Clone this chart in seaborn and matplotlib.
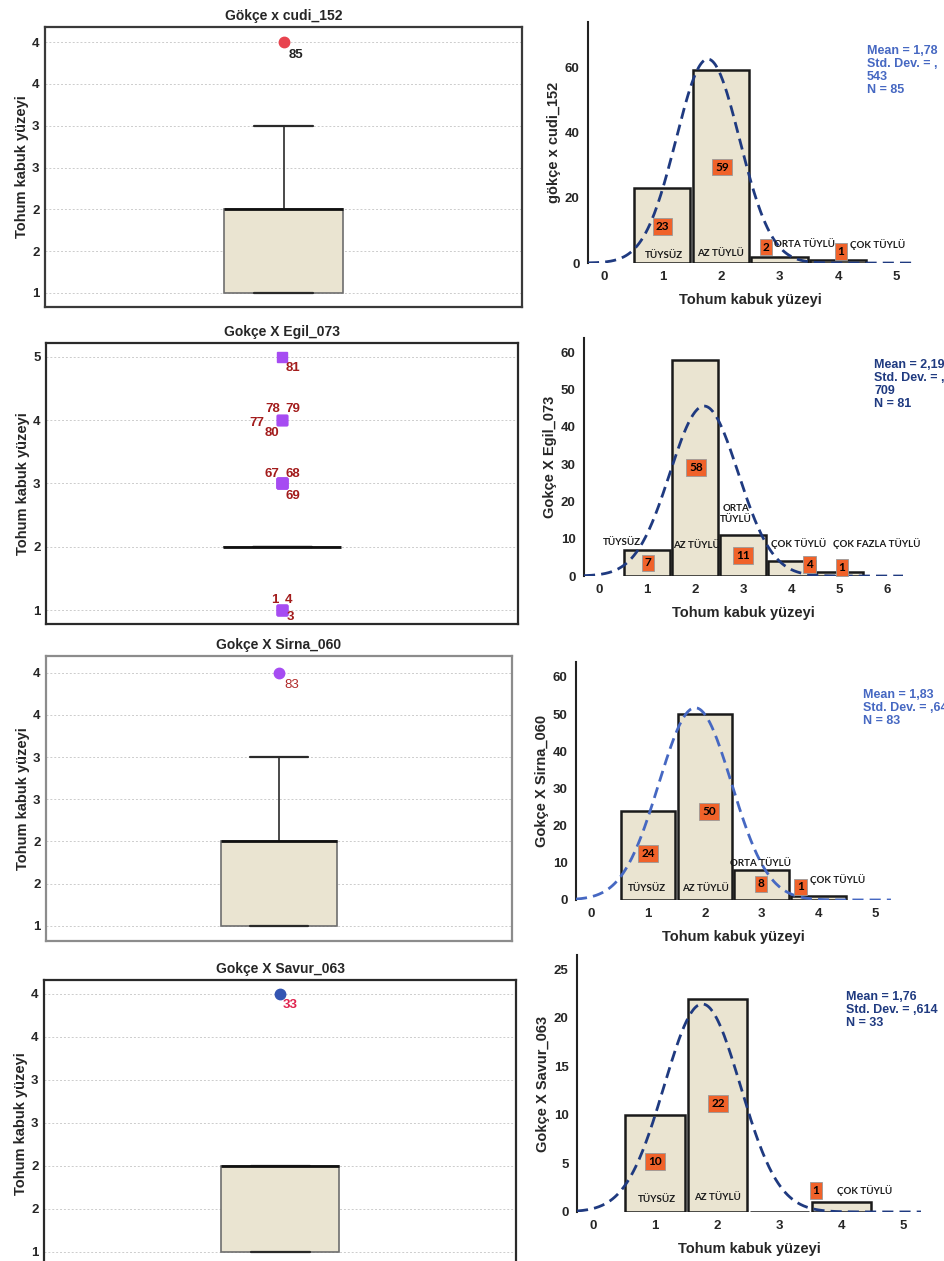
import numpy as np
import seaborn as sns
import matplotlib.pyplot as plt

# ---- data ----
levels = [1, 2, 3, 4, 5]

box_titles = ['Gökçe x cudi_152', 'Gokçe X Egil_073', 'Gokçe X Sirna_060', 'Gokçe X Savur_063']
hist_ylabels = ['gökçe x cudi_152', 'Gokçe X Egil_073', 'Gokçe X Sirna_060', 'Gokçe X Savur_063']

cudi_counts = [23, 59, 2, 1, 0]
egil_counts = [7, 58, 11, 4, 1]
sirna_counts = [24, 50, 8, 1, 0]
savur_counts = [10, 22, 0, 1, 0]

stats_texts = [
    'Mean = 1,78\nStd. Dev. = ,\n543\nN = 85',
    'Mean = 2,19\nStd. Dev. = ,\n709\nN = 81',
    'Mean = 1,83\nStd. Dev. = ,64\nN = 83',
    'Mean = 1,76\nStd. Dev. = ,614\nN = 33',
]

cudi_cats = ['TÜYSÜZ', 'AZ TÜYLÜ', 'ORTA TÜYLÜ', 'ÇOK TÜYLÜ']
egil_cats = ['TÜYSÜZ', 'AZ TÜYLÜ', 'ORTA\nTÜYLÜ', 'ÇOK TÜYLÜ', 'ÇOK FAZLA TÜYLÜ']
sirna_cats = ['TÜYSÜZ', 'AZ TÜYLÜ', 'ORTA TÜYLÜ', 'ÇOK TÜYLÜ']
savur_cats = ['TÜYSÜZ', 'AZ TÜYLÜ', 'ÇOK TÜYLÜ']

# case ids printed next to the outliers: (id, value)
cudi_outliers = [('85', 4)]
egil_outliers = [('81', 5), ('78', 4), ('79', 4), ('77', 4), ('80', 4),
                 ('67', 3), ('68', 3), ('69', 3), ('1', 1), ('4', 1), ('3', 1)]
sirna_outliers = [('83', 4)]
savur_outliers = [('33', 4)]

half_ticks = [1, 1.5, 2, 2.5, 3, 3.5, 4]
half_tick_labels = ['1', '2', '2', '3', '3', '4', '4']
egil_ticks = [1, 2, 3, 4, 5]
egil_tick_labels = ['1', '2', '3', '4', '5']

# ---- style ----
sns.set_style('white')
plt.rcParams['font.family'] = ['Liberation Sans', 'DejaVu Sans']

BEIGE = '#EAE4D1'
NAVY = '#1F3A80'
MIDBLUE = '#4668C2'
ORANGE = '#F0622A'

fig = plt.figure(figsize=(9.45, 12.61), dpi=100)


def box_panel(rect, counts, title, ticks, tick_labels, ylim, outliers, offsets,
              marker, mcolor, lcolor, lweight, frame_color):
    ax = fig.add_axes(rect)
    vals = np.repeat(levels, counts)
    sns.boxplot(y=vals, ax=ax, width=0.25, color=BEIGE, saturation=1,
                boxprops=dict(edgecolor='#6E6E6E', linewidth=1.2),
                whiskerprops=dict(color='#3A3A3A', linewidth=1.3),
                capprops=dict(color='#2A2A2A', linewidth=1.6),
                medianprops=dict(color='#111111', linewidth=2),
                flierprops=dict(marker=marker, markerfacecolor=mcolor,
                                markeredgecolor=mcolor, markersize=7.5))
    ax.set_xlim(-0.5, 0.5)
    ax.set_ylim(*ylim)
    ax.set_yticks(ticks)
    ax.set_yticklabels(tick_labels, fontsize=9.5, fontweight='bold')
    ax.set_xticks([])
    ax.grid(axis='y', color='#CCCCCC', linestyle=(0, (2, 2)), linewidth=0.7)
    ax.set_axisbelow(True)
    ax.tick_params(axis='y', length=0, pad=4)
    ax.set_ylabel('Tohum kabuk yüzeyi', fontsize=10.5, fontweight='bold', labelpad=2)
    ax.set_title(title, fontsize=10, fontweight='bold', pad=5)
    for s in ax.spines.values():
        s.set_visible(True)
        s.set_color(frame_color)
        s.set_linewidth(1.6)
    for (cid, v), (dx, dy) in zip(outliers, offsets):
        ax.annotate(cid, (0, v), xytext=(dx, dy), textcoords='offset points',
                    ha='center', va='center', fontsize=9.5, color=lcolor,
                    fontweight=lweight)
    return ax


def hist_panel(rect, counts, ylabel, xlim, ylim, xticks, yticks, stats, stats_pos,
               stats_color, curve_color, cats, cat_pos, badge_pos):
    ax = fig.add_axes(rect)
    vals = np.repeat(levels, counts)
    sns.histplot(x=vals, discrete=True, shrink=0.96, color=BEIGE, alpha=1,
                 edgecolor='#1A1A1A', linewidth=1.8, ax=ax, zorder=2)
    # normal curve from the sample statistics
    mu, sd, n = vals.mean(), vals.std(ddof=1), len(vals)
    xs = np.linspace(xlim[0], xlim[1], 300)
    ys = n * np.exp(-0.5 * ((xs - mu) / sd) ** 2) / (sd * np.sqrt(2 * np.pi))
    ax.plot(xs, ys, color=curve_color, linestyle=(0, (4, 2.2)), linewidth=2, zorder=3)
    ax.set_xlim(*xlim)
    ax.set_ylim(*ylim)
    ax.set_xticks(xticks)
    ax.set_yticks(yticks)
    ax.set_xticklabels([str(t) for t in xticks], fontsize=9.5, fontweight='bold')
    ax.set_yticklabels([str(t) for t in yticks], fontsize=9.5, fontweight='bold')
    ax.tick_params(length=0, pad=6)
    ax.set_xlabel('Tohum kabuk yüzeyi', fontsize=10.5, fontweight='bold', labelpad=7)
    ax.set_ylabel(ylabel, fontsize=10.5, fontweight='bold', labelpad=3)
    for side in ['top', 'right', 'bottom']:
        ax.spines[side].set_visible(False)
    ax.spines['left'].set_color('#222222')
    ax.spines['left'].set_linewidth(1.5)
    ax.text(stats_pos[0], stats_pos[1], stats, transform=ax.transAxes, ha='left',
            va='top', fontsize=9, fontweight='bold', color=stats_color,
            linespacing=1.1, clip_on=False)
    for name, (x, y) in zip(cats, cat_pos):
        ax.text(x, y, name, ha='center', va='center', fontsize=7,
                fontweight='bold', family=['Lato', 'DejaVu Sans'], color='#1A1A1A',
                linespacing=1.3, zorder=5)
    nonzero = [c for c in counts if c > 0]
    for c, (x, y) in zip(nonzero, badge_pos):
        ax.text(x, y, str(c), ha='center', va='center', fontsize=8.5,
                fontweight='bold', family=['Lato', 'DejaVu Sans'], color='black',
                zorder=6,
                bbox=dict(boxstyle='square,pad=0.25', fc=ORANGE, ec='#9A9A9A', lw=0.6))
    return ax


# ---- left column: box plots ----
box_panel([0.0476, 0.7565, 0.5048, 0.2220], cudi_counts, box_titles[0],
          half_ticks, half_tick_labels, (0.83, 4.18), cudi_outliers, [(9, -9)],
          'o', '#E8434F', '#222222', 'bold', '#3A3A3A')

box_panel([0.0487, 0.5052, 0.4995, 0.2228], egil_counts, box_titles[1],
          egil_ticks, egil_tick_labels, (0.78, 5.22), egil_outliers,
          [(8, -8), (-7, 8), (8, 8), (-18, -2), (-7, -9),
           (-7, 7), (8, 7), (8, -9), (-5, 7), (5, 7), (6, -5)],
          's', '#A64CF2', '#A31C1C', 'bold', '#2A2A2A')

box_panel([0.0487, 0.2538, 0.4931, 0.2260], sirna_counts, box_titles[2],
          half_ticks, half_tick_labels, (0.82, 4.2), sirna_outliers, [(9, -9)],
          'o', '#A64CF2', '#B02828', 'normal', '#8C8C8C')

box_panel([0.0466, -0.0048, 0.4995, 0.2276], savur_counts, box_titles[3],
          half_ticks, half_tick_labels, (0.82, 4.16), savur_outliers, [(7, -8)],
          'o', '#3455B2', '#E0234E', 'bold', '#2A2A2A')

# ---- right column: histograms ----
hist_panel([0.6222, 0.7914, 0.3439, 0.1911], cudi_counts, hist_ylabels[0],
           (-0.27, 5.28), (0, 73.8), [0, 1, 2, 3, 4, 5], [0, 20, 40, 60],
           stats_texts[0], (0.858, 0.905), MIDBLUE, NAVY, cudi_cats,
           [(1.03, 2.4), (2.0, 3.0), (3.43, 5.8), (4.67, 5.8)],
           [(1.0, 11.3), (2.02, 29.4), (2.77, 4.9), (4.05, 3.4)])

hist_panel([0.6180, 0.5432, 0.3376, 0.1887], egil_counts, hist_ylabels[1],
           (-0.31, 6.32), (0, 63.8), [0, 1, 2, 3, 4, 5, 6], [0, 10, 20, 30, 40, 50, 60],
           stats_texts[1], (0.909, 0.91), NAVY, NAVY, egil_cats,
           [(0.48, 9.1), (2.02, 8.3), (2.85, 16.6), (4.14, 8.8), (5.78, 8.8)],
           [(1.02, 3.5), (2.02, 29.0), (3.0, 5.6), (4.37, 3.2), (5.05, 2.2)])

hist_panel([0.6095, 0.2863, 0.3333, 0.1887], sirna_counts, hist_ylabels[2],
           (-0.27, 5.28), (0, 64), [0, 1, 2, 3, 4, 5], [0, 10, 20, 30, 40, 50, 60],
           stats_texts[2], (0.911, 0.885), MIDBLUE, MIDBLUE, sirna_cats,
           [(0.98, 3.2), (2.02, 3.2), (2.99, 9.9), (4.34, 5.6)],
           [(1.0, 12.4), (2.07, 23.9), (2.99, 4.3), (3.69, 3.5)])

hist_panel([0.6106, 0.0389, 0.3640, 0.2038], savur_counts, hist_ylabels[3],
           (-0.26, 5.28), (0, 26.5), [0, 1, 2, 3, 4, 5], [0, 5, 10, 15, 20, 25],
           stats_texts[3], (0.782, 0.86), NAVY, NAVY, savur_cats,
           [(1.03, 1.25), (2.01, 1.45), (4.38, 2.2)],
           [(1.0, 5.2), (2.01, 11.2), (3.59, 2.2)])

fig.savefig('out.png', dpi=100)
